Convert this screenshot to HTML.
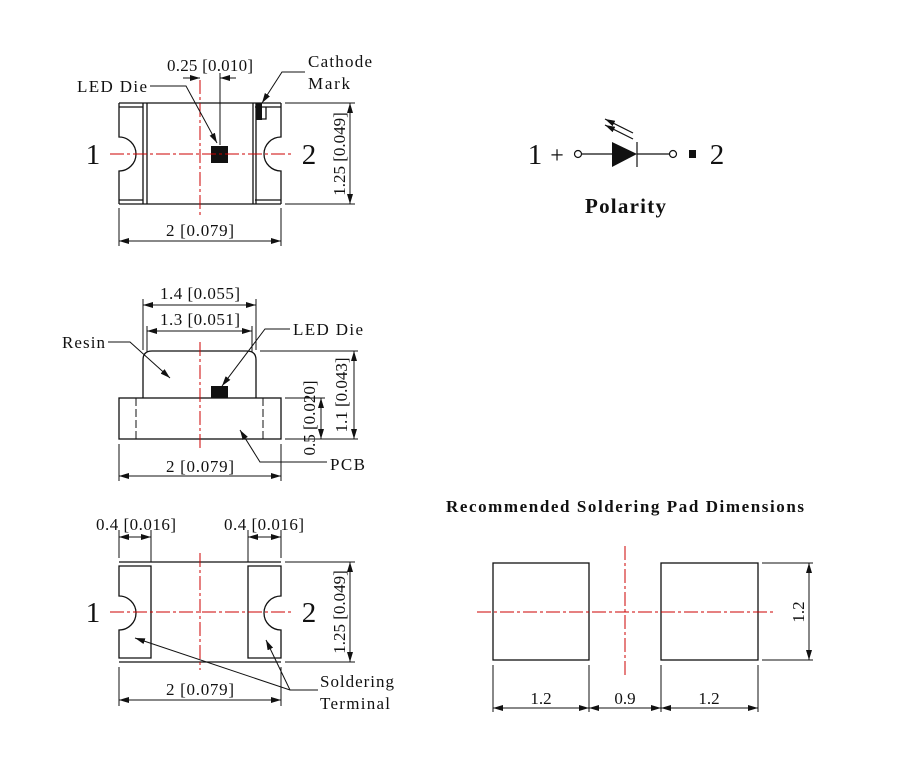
<!DOCTYPE html>
<html><head><meta charset="utf-8"><style>
html,body{margin:0;padding:0;background:#fff;}
svg{display:block;}
text{font-family:"Liberation Serif",serif;fill:#111;}
</style></head><body>
<svg width="915" height="770" viewBox="0 0 915 770" xmlns="http://www.w3.org/2000/svg">
<defs>
<marker id="a" viewBox="0 0 10 6" refX="10" refY="3" markerWidth="10" markerHeight="6" orient="auto-start-reverse" markerUnits="userSpaceOnUse"><path d="M0,0 L10,3 L0,6 z" fill="#111"/></marker>
</defs>
<g stroke="#111" stroke-width="1.3" fill="none">
<line x1="119" y1="103" x2="281" y2="103"/>
<line x1="119" y1="204" x2="281" y2="204"/>
<path d="M119,107 H143 M119,200 H143 M255,107 H281 M255,200 H281"/>
<path d="M119,103 V137 A17,17 0 0 1 119,171 V204"/>
<path d="M281,103 V137 A17,17 0 0 0 281,171 V204"/>
<line x1="143" y1="103" x2="143" y2="204"/><line x1="147" y1="103" x2="147" y2="204"/>
<line x1="253" y1="103" x2="253" y2="204"/><line x1="256" y1="103" x2="256" y2="204"/>
<path d="M266,107 V119 H258"/>
</g>
<rect x="256" y="103" width="6" height="17" fill="#111"/>
<rect x="211" y="146" width="17" height="17" fill="#111"/>
<g stroke="#c00" stroke-width="1" stroke-dasharray="14,3,3,3" fill="none">
<line x1="110" y1="154" x2="292" y2="154"/>
<line x1="200" y1="80" x2="200" y2="215"/>
</g>
<g stroke="#111" stroke-width="1" fill="none">
<line x1="220" y1="73" x2="220" y2="145"/>
<line x1="183" y1="78" x2="200" y2="78" marker-end="url(#a)"/>
<line x1="236" y1="78" x2="220" y2="78" marker-end="url(#a)"/>
<path d="M150,86 H186 L217,143" marker-end="url(#a)"/>
<path d="M305,72 H282 L262,103" marker-end="url(#a)"/>
<line x1="285" y1="103" x2="355" y2="103"/><line x1="285" y1="204" x2="355" y2="204"/>
<line x1="350" y1="103" x2="350" y2="204" marker-start="url(#a)" marker-end="url(#a)"/>
<line x1="119" y1="208" x2="119" y2="246"/><line x1="281" y1="208" x2="281" y2="246"/>
<line x1="119" y1="241" x2="281" y2="241" marker-start="url(#a)" marker-end="url(#a)"/>
</g>
<text x="167" y="71" font-size="17" textLength="86">0.25 [0.010]</text>
<text x="77" y="92" font-size="17" textLength="70">LED Die</text>
<text x="308" y="67" font-size="17" textLength="64">Cathode</text>
<text x="308" y="89" font-size="17" textLength="42">Mark</text>
<text x="93" y="164" font-size="29" text-anchor="middle">1</text>
<text x="309" y="164" font-size="29" text-anchor="middle">2</text>
<text x="166" y="236" font-size="17" textLength="68">2 [0.079]</text>
<text transform="translate(345,154) rotate(-90)" font-size="17" text-anchor="middle">1.25 [0.049]</text>

<!-- POLARITY -->
<text x="535" y="164" font-size="29" text-anchor="middle">1</text>
<text x="557" y="163" font-size="24" text-anchor="middle">+</text>
<g stroke="#111" stroke-width="1.2" fill="none">
<circle cx="578" cy="154" r="3.5"/>
<line x1="581" y1="154" x2="612" y2="154"/>
<line x1="637" y1="142" x2="637" y2="167"/>
<line x1="637" y1="154" x2="670" y2="154"/>
<circle cx="673" cy="154" r="3.5"/>
<line x1="633" y1="133" x2="605" y2="119" marker-end="url(#a)"/>
<line x1="633" y1="139" x2="605" y2="125" marker-end="url(#a)"/>
</g>
<path d="M612,142 L637,154 L612,167 z" fill="#111"/>
<rect x="689" y="150" width="7" height="8" fill="#111"/>
<text x="717" y="164" font-size="29" text-anchor="middle">2</text>
<text x="585" y="213" font-size="21" font-weight="bold" textLength="81">Polarity</text>

<!-- SIDE VIEW -->
<g stroke="#111" stroke-width="1.3" fill="none">
<rect x="119" y="398" width="162" height="41"/>
<path d="M143,398 V360 Q143,351 152,351 H247 Q256,351 256,360 V398"/>
</g>
<g stroke="#111" stroke-width="1" stroke-dasharray="8,3" fill="none">
<line x1="136" y1="398" x2="136" y2="439"/><line x1="263" y1="398" x2="263" y2="439"/>
</g>
<rect x="211" y="386" width="17" height="12" fill="#111"/>
<line x1="200" y1="342" x2="200" y2="448" stroke="#c00" stroke-width="1" stroke-dasharray="14,3,3,3"/>
<g stroke="#111" stroke-width="1" fill="none">
<line x1="143" y1="299" x2="143" y2="350"/><line x1="256" y1="299" x2="256" y2="350"/>
<line x1="147" y1="326" x2="147" y2="352"/><line x1="252" y1="326" x2="252" y2="352"/>
<line x1="143" y1="305" x2="256" y2="305" marker-start="url(#a)" marker-end="url(#a)"/>
<line x1="147" y1="331" x2="252" y2="331" marker-start="url(#a)" marker-end="url(#a)"/>
<line x1="260" y1="351" x2="358" y2="351"/><line x1="285" y1="398" x2="325" y2="398"/><line x1="285" y1="439" x2="358" y2="439"/>
<line x1="354" y1="351" x2="354" y2="439" marker-start="url(#a)" marker-end="url(#a)"/>
<line x1="321" y1="398" x2="321" y2="439" marker-start="url(#a)" marker-end="url(#a)"/>
<line x1="119" y1="444" x2="119" y2="481"/><line x1="281" y1="444" x2="281" y2="481"/>
<line x1="119" y1="476" x2="281" y2="476" marker-start="url(#a)" marker-end="url(#a)"/>
<path d="M108,342 H130 L170,378" marker-end="url(#a)"/>
<path d="M290,329 H265 L222,386" marker-end="url(#a)"/>
<path d="M327,462 H260 L240,430" marker-end="url(#a)"/>
</g>
<text x="160" y="299" font-size="17" textLength="80">1.4 [0.055]</text>
<text x="160" y="325" font-size="17" textLength="80">1.3 [0.051]</text>
<text x="62" y="348" font-size="17" textLength="43">Resin</text>
<text x="293" y="335" font-size="17" textLength="70">LED Die</text>
<text x="330" y="470" font-size="17" textLength="35">PCB</text>
<text x="166" y="472" font-size="17" textLength="68">2 [0.079]</text>
<text transform="translate(347,395) rotate(-90)" font-size="17" text-anchor="middle">1.1 [0.043]</text>
<text transform="translate(315,418) rotate(-90)" font-size="17" text-anchor="middle">0.5 [0.020]</text>

<!-- BOTTOM VIEW -->
<g stroke="#111" stroke-width="1.3" fill="none">
<line x1="119" y1="562" x2="281" y2="562"/><line x1="119" y1="662" x2="281" y2="662"/>
<path d="M119,566 H151 V658 H119 V630 A17,17 0 0 0 119,596 Z"/>
<path d="M281,566 H248 V658 H281 V630 A17,17 0 0 1 281,596 Z"/>
</g>
<g stroke="#c00" stroke-width="1" stroke-dasharray="14,3,3,3" fill="none">
<line x1="110" y1="612" x2="292" y2="612"/>
<line x1="200" y1="553" x2="200" y2="670"/>
</g>
<g stroke="#111" stroke-width="1" fill="none">
<line x1="119" y1="530" x2="119" y2="558"/><line x1="151" y1="530" x2="151" y2="562"/>
<line x1="248" y1="530" x2="248" y2="562"/><line x1="281" y1="530" x2="281" y2="558"/>
<line x1="119" y1="537" x2="151" y2="537" marker-start="url(#a)" marker-end="url(#a)"/>
<line x1="248" y1="537" x2="281" y2="537" marker-start="url(#a)" marker-end="url(#a)"/>
<line x1="285" y1="562" x2="355" y2="562"/><line x1="285" y1="662" x2="355" y2="662"/>
<line x1="350" y1="562" x2="350" y2="662" marker-start="url(#a)" marker-end="url(#a)"/>
<line x1="119" y1="667" x2="119" y2="706"/><line x1="281" y1="667" x2="281" y2="706"/>
<line x1="119" y1="700" x2="281" y2="700" marker-start="url(#a)" marker-end="url(#a)"/>
<path d="M318,690 H290 L135,638" marker-end="url(#a)"/>
<path d="M290,690 L266,640" marker-end="url(#a)"/>
</g>
<text x="96" y="530" font-size="17" textLength="80">0.4 [0.016]</text>
<text x="224" y="530" font-size="17" textLength="80">0.4 [0.016]</text>
<text x="93" y="622" font-size="29" text-anchor="middle">1</text>
<text x="309" y="622" font-size="29" text-anchor="middle">2</text>
<text transform="translate(345,612) rotate(-90)" font-size="17" text-anchor="middle">1.25 [0.049]</text>
<text x="166" y="695" font-size="17" textLength="68">2 [0.079]</text>
<text x="320" y="687" font-size="17" textLength="74">Soldering</text>
<text x="320" y="709" font-size="17" textLength="70">Terminal</text>

<!-- PADS -->
<text x="446" y="512" font-size="17" font-weight="bold" textLength="358">Recommended Soldering Pad Dimensions</text>
<g stroke="#111" stroke-width="1.3" fill="none">
<rect x="493" y="563" width="96" height="97"/>
<rect x="661" y="563" width="97" height="97"/>
</g>
<g stroke="#c00" stroke-width="1" stroke-dasharray="14,3,3,3" fill="none">
<line x1="477" y1="612" x2="775" y2="612"/>
<line x1="625" y1="546" x2="625" y2="677"/>
</g>
<g stroke="#111" stroke-width="1" fill="none">
<line x1="493" y1="665" x2="493" y2="712"/><line x1="589" y1="665" x2="589" y2="712"/>
<line x1="661" y1="665" x2="661" y2="712"/><line x1="758" y1="665" x2="758" y2="712"/>
<line x1="493" y1="708" x2="589" y2="708" marker-start="url(#a)" marker-end="url(#a)"/>
<line x1="589" y1="708" x2="661" y2="708" marker-start="url(#a)" marker-end="url(#a)"/>
<line x1="661" y1="708" x2="758" y2="708" marker-start="url(#a)" marker-end="url(#a)"/>
<line x1="762" y1="563" x2="813" y2="563"/><line x1="762" y1="660" x2="813" y2="660"/>
<line x1="809" y1="563" x2="809" y2="660" marker-start="url(#a)" marker-end="url(#a)"/>
</g>
<text x="541" y="704" font-size="17" text-anchor="middle">1.2</text>
<text x="625" y="704" font-size="17" text-anchor="middle">0.9</text>
<text x="709" y="704" font-size="17" text-anchor="middle">1.2</text>
<text transform="translate(804,612) rotate(-90)" font-size="17" text-anchor="middle">1.2</text>
</svg>
</body></html>
